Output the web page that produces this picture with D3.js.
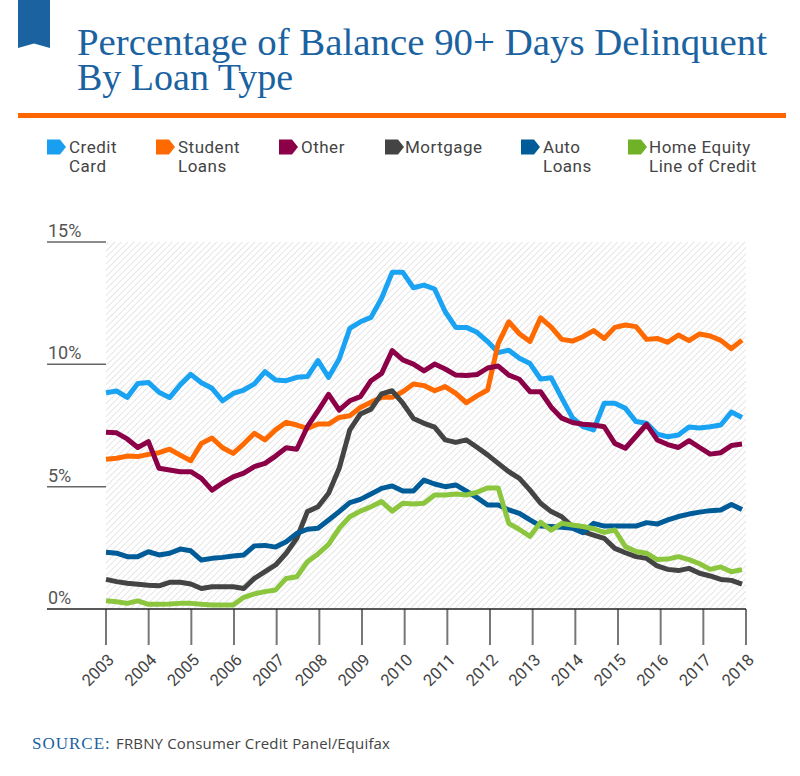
<!DOCTYPE html>
<html><head><meta charset="utf-8">
<script src="https://cdn.jsdelivr.net/npm/d3@7"></script>
<style>body{margin:0;background:#fff}svg{display:block}</style>
</head><body>
<svg id="c" width="800" height="776"></svg>
<script>
// ---------- data ----------
const yearTicks = [2003,2004,2005,2006,2007,2008,2009,2010,2011,2012,2013,2014,2015,2016,2017,2018];
const yTicks = [0,5,10,15];
// quarterly values, 2003 Q1 .. 2018 Q1 (61 points)
const creditCard = [8.84,8.91,8.65,9.22,9.26,8.86,8.64,9.16,9.59,9.25,9.02,8.51,8.81,8.95,9.20,9.70,9.36,9.33,9.47,9.50,10.15,9.47,10.22,11.47,11.74,11.92,12.70,13.76,13.76,13.13,13.24,13.08,12.15,11.51,11.51,11.31,10.93,10.48,10.58,10.25,10.03,9.40,9.45,8.62,7.82,7.45,7.32,8.41,8.41,8.20,7.66,7.59,7.15,7.04,7.11,7.44,7.40,7.45,7.52,8.05,7.83];
const studentLoans = [6.12,6.16,6.25,6.23,6.32,6.39,6.53,6.29,6.06,6.77,6.99,6.59,6.36,6.75,7.18,6.91,7.32,7.63,7.52,7.38,7.56,7.56,7.83,7.90,8.24,8.45,8.65,8.65,8.88,9.20,9.13,8.92,9.09,8.81,8.43,8.71,8.95,10.85,11.74,11.25,10.93,11.90,11.52,11.02,10.95,11.13,11.38,11.06,11.51,11.61,11.54,11.02,11.06,10.90,11.20,10.97,11.24,11.16,10.98,10.64,10.99];
const other = [7.22,7.20,6.95,6.60,6.84,5.75,5.68,5.61,5.61,5.34,4.86,5.15,5.40,5.55,5.82,5.95,6.25,6.59,6.53,7.45,8.10,8.77,8.13,8.51,8.68,9.33,9.63,10.56,10.18,10.01,9.73,10.01,9.81,9.56,9.54,9.58,9.85,9.93,9.56,9.39,8.88,8.88,8.25,7.80,7.62,7.55,7.52,7.45,6.77,6.57,7.06,7.55,6.91,6.72,6.60,6.88,6.60,6.33,6.39,6.68,6.74];
const mortgage = [1.21,1.12,1.05,1.01,0.97,0.95,1.09,1.09,1.02,0.84,0.91,0.91,0.91,0.84,1.25,1.53,1.80,2.28,2.89,3.98,4.18,4.73,5.75,7.32,7.97,8.17,8.79,8.92,8.41,7.79,7.59,7.43,6.91,6.81,6.91,6.61,6.30,5.95,5.61,5.34,4.86,4.32,3.98,3.77,3.37,3.16,3.02,2.89,2.48,2.30,2.14,2.07,1.76,1.62,1.57,1.66,1.46,1.35,1.21,1.17,1.02];
const autoLoans = [2.32,2.28,2.14,2.14,2.34,2.21,2.28,2.45,2.38,2.00,2.07,2.11,2.17,2.21,2.58,2.60,2.53,2.75,3.09,3.26,3.30,3.64,3.98,4.35,4.48,4.70,4.93,5.03,4.82,4.82,5.27,5.11,5.00,5.07,4.82,4.55,4.25,4.25,4.05,3.91,3.64,3.39,3.37,3.34,3.30,3.12,3.50,3.39,3.39,3.39,3.39,3.53,3.47,3.64,3.78,3.88,3.96,4.02,4.05,4.27,4.07];
const homeEquity = [0.34,0.30,0.23,0.33,0.19,0.19,0.20,0.23,0.23,0.19,0.16,0.16,0.16,0.48,0.62,0.71,0.78,1.25,1.32,1.93,2.25,2.64,3.30,3.77,4.00,4.18,4.39,4.00,4.32,4.29,4.32,4.66,4.66,4.70,4.66,4.77,4.95,4.95,3.50,3.25,2.97,3.55,3.22,3.50,3.43,3.37,3.28,3.13,3.23,2.55,2.35,2.28,2.02,2.04,2.14,2.02,1.85,1.62,1.72,1.52,1.61];

const seriesNames = [["Credit","Card"],["Student","Loans"],["Other"],["Mortgage"],["Auto","Loans"],["Home Equity","Line of Credit"]];
const seriesValues = [creditCard, studentLoans, other, mortgage, autoLoans, homeEquity];
const lineColors = ["#1aa3f2","#ff6a00","#8c0048","#444444","#005c99","#8cc63f"];
const legendColors = ["#1a9ff0","#ff6a00","#8c0048","#444444","#005c99","#6fb127"];

// ---------- layout ----------
const svg = d3.select("#c");
const plotL = 106, plotR = 746, plotT = 242, plotB = 609;
const xYear = d3.scaleLinear().domain([2003, 2018]).range([plotL, plotR]);
const xIdx = d3.scaleLinear().domain([0, creditCard.length - 1]).range([plotL, 742]);
const y = d3.scaleLinear().domain([0, 15]).range([plotB, plotT]);

// header
svg.append("path").attr("d","M18,0H50V48L34,43.5L18,48Z").attr("fill","#1a62a0");
const titleFont = "'Liberation Serif','DejaVu Serif',serif";
svg.append("text").attr("font-family",titleFont).attr("font-size",38).attr("fill","#1a62a0")
  .attr("x",77).attr("y",55).attr("textLength",690).attr("lengthAdjust","spacingAndGlyphs")
  .text("Percentage of Balance 90+ Days Delinquent");
svg.append("text").attr("font-family",titleFont).attr("font-size",38).attr("fill","#1a62a0")
  .attr("x",77).attr("y",90).text("By Loan Type");
svg.append("rect").attr("x",18).attr("y",113).attr("width",768).attr("height",5).attr("fill","#ff6600");

// legend
const legendX = [[47,69],[156,178],[279,301],[385,405],[521,543],[628,649]];
seriesNames.forEach((nm,i)=>{
  const [ix, tx] = legendX[i];
  svg.append("path").attr("d",`M${ix},139.5H${ix+13}L${ix+19},147L${ix+13},154.5H${ix}Z`).attr("fill",legendColors[i]);
  const t = svg.append("text").attr("font-family","Roboto,'Liberation Sans',sans-serif")
    .attr("font-size",17).attr("letter-spacing",0.5).attr("fill","#444");
  nm.forEach((ln,j)=> t.append("tspan").attr("x",tx).attr("y",153 + j*19).text(ln));
});

// hatch pattern
const defs = svg.append("defs");
const pat = defs.append("pattern").attr("id","hatch").attr("patternUnits","userSpaceOnUse")
  .attr("width",4.5).attr("height",4.5).attr("patternTransform","rotate(45)");
pat.append("rect").attr("width",4.5).attr("height",4.5).attr("fill","#fff");
pat.append("line").attr("x1",0).attr("y1",0).attr("x2",0).attr("y2",4.5).attr("stroke","#dcdcdc").attr("stroke-width",1.4);
svg.append("rect").attr("x",plotL).attr("y",plotT).attr("width",plotR-plotL).attr("height",plotB-plotT).attr("fill","url(#hatch)");

// y grid stubs + labels
yTicks.forEach(v=>{
  if (v>0) svg.append("line").attr("x1",47).attr("x2",plotL).attr("y1",y(v)).attr("y2",y(v)).attr("stroke","#666").attr("stroke-width",1.5);
  svg.append("text").attr("x",48).attr("y",y(v)-5).attr("font-family","Roboto,sans-serif").attr("font-size",18)
    .attr("fill","#555").text(v+"%");
});

// x axis
const xAxis = svg.append("g");
yearTicks.forEach(yr=>{
  const xx = xYear(yr);
  xAxis.append("line").attr("x1",xx).attr("x2",xx).attr("y1",plotB).attr("y2",645).attr("stroke","#777").attr("stroke-width",2);
  xAxis.append("text").attr("transform",`translate(${xx+9},661) rotate(-45)`).attr("text-anchor","end")
    .attr("font-family","Roboto,sans-serif").attr("font-size",16.5).attr("fill","#444").text(yr);
});
svg.append("line").attr("x1",47).attr("x2",plotR).attr("y1",plotB).attr("y2",plotB).attr("stroke","#222").attr("stroke-width",1.6);

// lines
const line = d3.line().x((d,i)=>xIdx(i)).y(d=>y(d));
seriesValues.forEach((vals,i)=>{
  svg.append("path").datum(vals).attr("d",line).attr("fill","none").attr("stroke",lineColors[i])
    .attr("stroke-width",5).attr("stroke-linejoin","round");
});

// source
svg.append("text").attr("x",32).attr("y",749).attr("font-family","'Liberation Serif',serif").attr("font-size",17)
  .attr("letter-spacing",1).attr("fill","#1a62a0").text("SOURCE:");
svg.append("text").attr("x",116).attr("y",749).attr("font-family","'Open Sans',sans-serif").attr("font-size",15)
  .attr("letter-spacing",0.15).attr("fill","#444").text("FRBNY Consumer Credit Panel/Equifax");
</script>
</body></html>
